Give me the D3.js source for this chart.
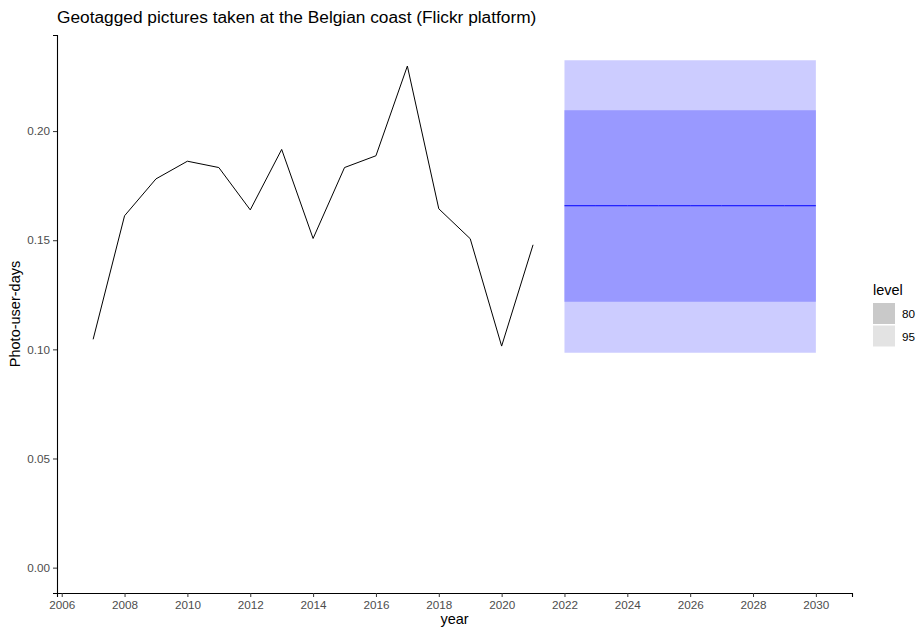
<!DOCTYPE html>
<html>
<head>
<meta charset="utf-8">
<script src="https://cdn.jsdelivr.net/npm/d3@7"></script>
<style>
  body { margin: 0; background: #fff; }
  svg { display: block; font-family: "Liberation Sans", Arial, sans-serif; }
</style>
</head>
<body>
<svg id="chart" width="917" height="628"></svg>
<script>
// Observed series
const years = [2007, 2008, 2009, 2010, 2011, 2012, 2013, 2014, 2015, 2016, 2017, 2018, 2019, 2020, 2021];
const photoUserDays = [0.1046, 0.1612, 0.1781, 0.1862, 0.1833, 0.1639, 0.1916, 0.1508, 0.1833, 0.1887, 0.2298, 0.1644, 0.1507, 0.1015, 0.1479];

// Forecast horizon (flat mean with prediction intervals)
const forecastYears = [2022, 2023, 2024, 2025, 2026, 2027, 2028, 2029, 2030];
const forecastMean  = [0.1658, 0.1658, 0.1658, 0.1658, 0.1658, 0.1658, 0.1658, 0.1658, 0.1658];
const lower80 = [0.1218, 0.1218, 0.1218, 0.1218, 0.1218, 0.1218, 0.1218, 0.1218, 0.1218];
const upper80 = [0.2096, 0.2096, 0.2096, 0.2096, 0.2096, 0.2096, 0.2096, 0.2096, 0.2096];
const lower95 = [0.0985, 0.0985, 0.0985, 0.0985, 0.0985, 0.0985, 0.0985, 0.0985, 0.0985];
const upper95 = [0.2324, 0.2324, 0.2324, 0.2324, 0.2324, 0.2324, 0.2324, 0.2324, 0.2324];

const xTicks = [2006, 2008, 2010, 2012, 2014, 2016, 2018, 2020, 2022, 2024, 2026, 2028, 2030];
const yTicks = [0.00, 0.05, 0.10, 0.15, 0.20];
const levels = ["80", "95"];
const levelColors = ["#c9c9c9", "#e3e3e3"];

const svg = d3.select("#chart");
const panel = { left: 57, right: 852, top: 35, bottom: 593 };

// ggplot-style 5% expansion of the data range
const allX = years.concat(forecastYears);
const xMin = d3.min(allX), xMax = d3.max(allX);
const xPad = (xMax - xMin) * 0.05;
const x = d3.scaleLinear().domain([xMin - xPad, xMax + xPad]).range([panel.left, panel.right]);

const yMin = 0, yMax = d3.max(photoUserDays.concat(upper95));
const yPad = (yMax - yMin) * 0.05;
const y = d3.scaleLinear().domain([yMin - yPad, yMax + yPad]).range([panel.bottom, panel.top]);

// Prediction interval bands
const fc = forecastYears.map((yr, i) => ({ yr, m: forecastMean[i], l80: lower80[i], u80: upper80[i], l95: lower95[i], u95: upper95[i] }));
const band = (lo, hi) => d3.area().x(d => x(d.yr)).y0(d => y(d[lo])).y1(d => y(d[hi]));
svg.append("path").datum(fc).attr("d", band("l95", "u95")).attr("fill", "#ccccff");
svg.append("path").datum(fc).attr("d", band("l80", "u80")).attr("fill", "#9999ff");

// Forecast mean
svg.append("path").datum(fc)
  .attr("d", d3.line().x(d => x(d.yr)).y(d => y(d.m)))
  .attr("fill", "none").attr("stroke", "#0000ff").attr("stroke-width", 1);

// Observed line
svg.append("path").datum(years.map((yr, i) => [yr, photoUserDays[i]]))
  .attr("d", d3.line().x(d => x(d[0])).y(d => y(d[1])))
  .attr("fill", "none").attr("stroke", "#000").attr("stroke-width", 1);

// Axes
const xAxis = svg.append("g").attr("transform", `translate(0,${panel.bottom})`)
  .call(d3.axisBottom(x).tickValues(xTicks).tickFormat(d3.format("d")).tickSizeOuter(0).tickSize(4).tickPadding(4));
const yAxis = svg.append("g").attr("transform", `translate(${panel.left},0)`)
  .call(d3.axisLeft(y).tickValues(yTicks).tickFormat(d3.format(".2f")).tickSizeOuter(0).tickSize(4).tickPadding(3));
[xAxis, yAxis].forEach(g => {
  g.select(".domain").attr("stroke", "#000").attr("stroke-width", 1.1);
  g.selectAll(".tick line").attr("stroke", "#333").attr("stroke-width", 1);
  g.selectAll(".tick text").attr("fill", "#4d4d4d").style("font-size", "11.7px")
    .style("font-family", "'Liberation Sans', Arial, sans-serif");
});

// Titles
svg.append("text").attr("x", 57).attr("y", 23)
  .style("font-size", "17.3px").attr("fill", "#000")
  .text("Geotagged pictures taken at the Belgian coast (Flickr platform)");
svg.append("text").attr("x", (panel.left + panel.right) / 2).attr("y", 624)
  .attr("text-anchor", "middle").style("font-size", "14.5px").attr("fill", "#000").text("year");
svg.append("text").attr("transform", `translate(19.5,${(panel.top + panel.bottom) / 2}) rotate(-90)`)
  .attr("text-anchor", "middle").style("font-size", "14.5px").attr("fill", "#000").text("Photo-user-days");

// Legend
const legend = svg.append("g").attr("transform", "translate(873,295)");
legend.append("text").attr("x", 0).attr("y", 0).style("font-size", "14.5px").attr("fill", "#000").text("level");
levels.forEach((lv, i) => {
  legend.append("rect").attr("x", 0).attr("y", 8 + i * 22.5).attr("width", 22).attr("height", 21)
    .attr("fill", levelColors[i]);
  legend.append("text").attr("x", 29).attr("y", 8 + i * 22.5 + 15).style("font-size", "11.7px")
    .attr("fill", "#000").text(lv);
});
</script>
</body>
</html>
